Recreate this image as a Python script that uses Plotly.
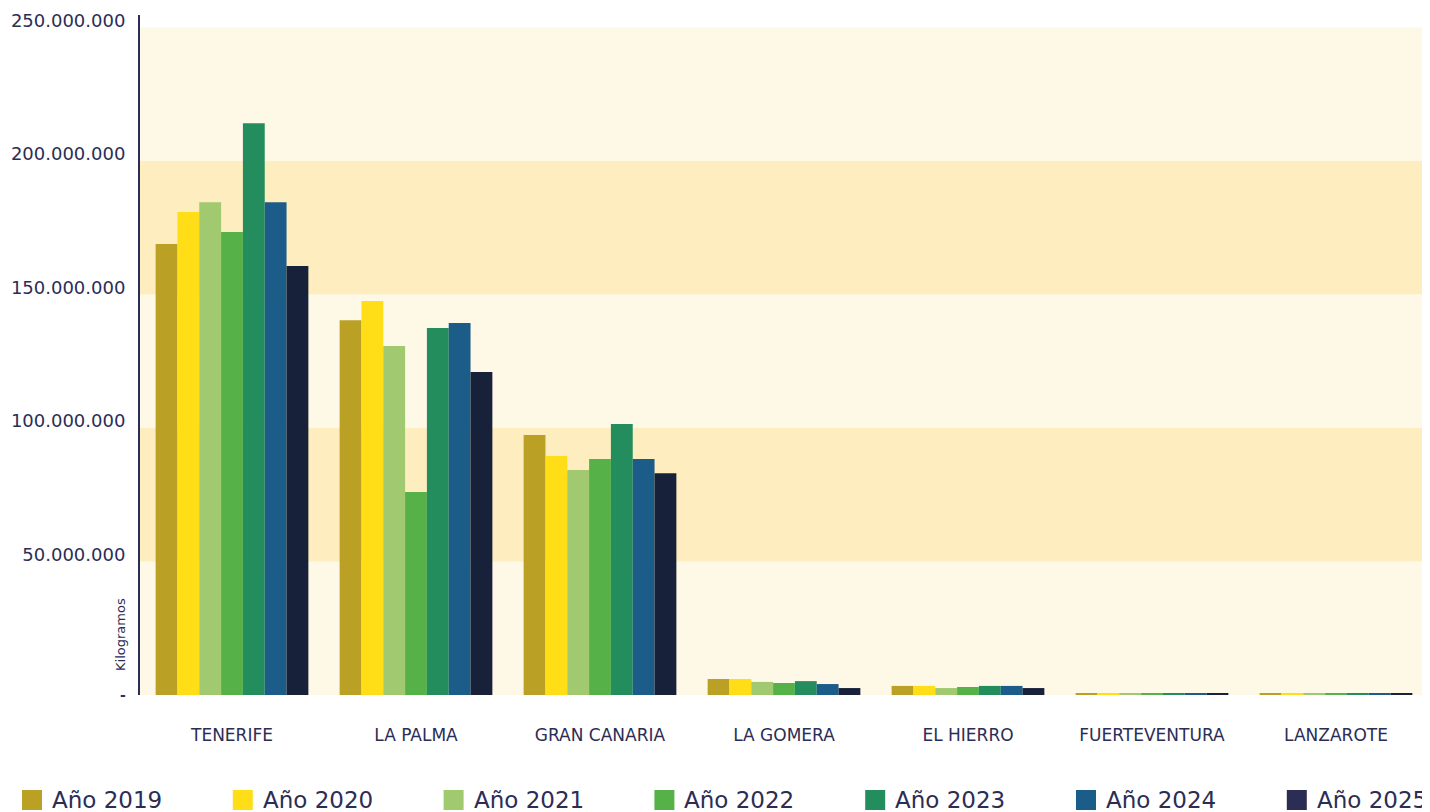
import plotly.graph_objects as go

islands = ["TENERIFE", "LA PALMA", "GRAN CANARIA", "LA GOMERA", "EL HIERRO", "FUERTEVENTURA", "LANZAROTE"]
years = ["Año 2019", "Año 2020", "Año 2021", "Año 2022", "Año 2023", "Año 2024", "Año 2025"]

v2019 = [168.9e6, 140.4e6, 97.4e6, 6.0e6, 3.4e6, 0.6e6, 0.6e6]
v2020 = [180.9e6, 147.6e6, 89.5e6, 6.0e6, 3.4e6, 0.6e6, 0.6e6]
v2021 = [184.6e6, 130.7e6, 84.3e6, 4.9e6, 2.6e6, 0.6e6, 0.6e6]
v2022 = [173.4e6, 76.0e6, 88.4e6, 4.5e6, 3.0e6, 0.6e6, 0.6e6]
v2023 = [214.2e6, 137.5e6, 101.5e6, 5.2e6, 3.4e6, 0.6e6, 0.6e6]
v2024 = [184.6e6, 139.3e6, 88.4e6, 4.1e6, 3.4e6, 0.6e6, 0.6e6]
v2025 = [160.7e6, 121.0e6, 83.1e6, 2.6e6, 2.6e6, 0.6e6, 0.6e6]
series = [v2019, v2020, v2021, v2022, v2023, v2024, v2025]

colors = ["#BAA024", "#FFDD17", "#A1C970", "#56B148", "#238D5E", "#1B5C88", "#18213A"]
legend_colors = ["#BAA024", "#FFDD17", "#A1C970", "#56B148", "#238D5E", "#1B5C88", "#2B2D55"]

tick_vals = [0, 50e6, 100e6, 150e6, 200e6, 250e6]
tick_text = ["", "50.000.000", "100.000.000", "150.000.000", "200.000.000", "250.000.000"]
band_colors = ["#FEF8E6", "#FDEDBF", "#FEF8E6", "#FDEDBF", "#FEF8E6"]

TEXT = "#2B2D55"
FONT = "DejaVu Sans"

# page has an 8px body margin: the figure starts at page (8, 8)
OFF = 8
W, H = 1430 - OFF, 812 - OFF
ML, MT = 140 - OFF, 15 - OFF
PW = 1288
PH = 695 - 15
MR = W - ML - PW
MB = H - MT - PH

def px_x(px):  # page pixel -> paper x
    return (px - 140) / PW

def px_y(py):  # page pixel -> paper y
    return (695 - py) / PH

fig = go.Figure()
for name, vals, col in zip(years, series, colors):
    fig.add_trace(go.Bar(x=islands, y=vals, name=name, marker=dict(color=col, line=dict(width=0)),
                         showlegend=False))

shapes = []
for i, bc in enumerate(band_colors):
    shapes.append(dict(type="rect", xref="paper", yref="y", x0=0, x1=1,
                       y0=tick_vals[i], y1=tick_vals[i + 1],
                       fillcolor=bc, line=dict(width=0), layer="below"))

annotations = []
# manual legend
for i, (name, col) in enumerate(zip(years, legend_colors)):
    x0 = 22 + i * 210.8
    shapes.append(dict(type="rect", xref="paper", yref="paper",
                       x0=px_x(x0), x1=px_x(x0 + 20), y0=px_y(810), y1=px_y(790),
                       fillcolor=col, line=dict(width=0)))
    annotations.append(dict(xref="paper", yref="paper", x=px_x(x0 + 28), y=px_y(800),
                            text=name, showarrow=False, xanchor="left", yanchor="middle",
                            font=dict(size=23, color=TEXT, family=FONT)))

annotations.append(dict(xref="paper", yref="paper", x=px_x(120), y=px_y(635),
                        text="Kilogramos", textangle=-90, showarrow=False,
                        xanchor="center", yanchor="middle",
                        font=dict(size=13, color=TEXT, family=FONT)))
# zero label dash
annotations.append(dict(xref="paper", yref="y", x=px_x(123), y=0,
                        text="<b>-</b>", showarrow=False, xanchor="center", yanchor="middle",
                        font=dict(size=14, color=TEXT, family=FONT)))

fig.update_layout(
    width=W, height=H,
    margin=dict(l=ML, r=MR, t=MT, b=MB, pad=0, autoexpand=False),
    paper_bgcolor="white", plot_bgcolor="white",
    barmode="group", bargap=0.17, bargroupgap=0,
    shapes=shapes, annotations=annotations,
    font=dict(family=FONT, color=TEXT),
    xaxis=dict(showgrid=False, showline=False, zeroline=False, ticks="", automargin=False,
               tickfont=dict(size=17, color=TEXT, family=FONT), ticklabelstandoff=28),
    yaxis=dict(range=[0, 254.7e6], tickvals=tick_vals, ticktext=tick_text, automargin=False,
               showgrid=False, zeroline=False, showline=True, linecolor=TEXT, linewidth=2,
               ticks="", ticklabelposition="outside", ticklabelshift=-7, ticklabelstandoff=9,
               tickfont=dict(size=18, color=TEXT, family=FONT)),
)

fig.write_html("out.html")
